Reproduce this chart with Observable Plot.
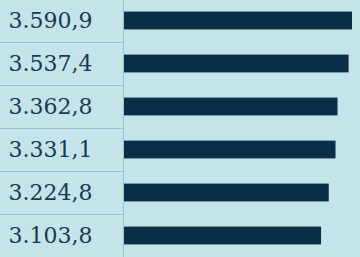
<!DOCTYPE html>
<html>
<head>
<meta charset="utf-8">
<script src="https://cdn.jsdelivr.net/npm/d3@7"></script>
<script src="https://cdn.jsdelivr.net/npm/@observablehq/plot@0.6"></script>
<style>
  html, body { margin: 0; padding: 0; background: #c4e4ea; }
  #chart svg { display: block; }
</style>
</head>
<body>
<div id="chart"></div>
<script>
// Ranked rows, top to bottom, and their values
const ranks = [1, 2, 3, 4, 5, 6];
const values = [3590.9, 3537.4, 3362.8, 3331.1, 3224.8, 3103.8];

const data = ranks.map((r, i) => ({rank: r, value: values[i]}));

// German number style: 3.590,9
const de = d3.formatLocale({decimal: ",", thousands: ".", grouping: [3], currency: ["", " €"]});
const fmt = de.format(",.1f");

const W = 360, H = 257;
const ink = "#0a3049";
const textInk = "#163a52";
const grid = "#98c4cd";

const plot = Plot.plot({
  width: W,
  height: H,
  margin: 0,
  style: {background: "#c4e4ea", fontFamily: "'DejaVu Serif', serif", overflow: "visible"},
  x: {domain: [0, d3.max(values)], range: [124, 352], axis: null},
  y: {domain: ranks, range: [-2, H], padding: 0, axis: null},
  marks: [
    Plot.ruleX([0], {stroke: grid, strokeWidth: 1, dx: -1}),
    Plot.barX(data, {x: "value", y: "rank", fill: ink, insetTop: 12.6, insetBottom: 12.6}),
    Plot.text(data, {
      y: "rank",
      text: d => fmt(d.value),
      frameAnchor: "left",
      dx: 8,
      textAnchor: "start",
      fill: textInk,
      fontSize: 22
    })
  ]
});

// Row separators in the label column, at each band boundary
const y = plot.scale("y");
const xStart = plot.scale("x").apply(0) - 1;
d3.select(plot).insert("g", ":first-child")
  .selectAll("line")
  .data(ranks.slice(1))
  .join("line")
  .attr("x1", 0)
  .attr("x2", xStart)
  .attr("y1", d => Math.round(y.apply(d)) + 0.5)
  .attr("y2", d => Math.round(y.apply(d)) + 0.5)
  .attr("stroke", grid)
  .attr("stroke-width", 1);

document.getElementById("chart").append(plot);
</script>
</body>
</html>
